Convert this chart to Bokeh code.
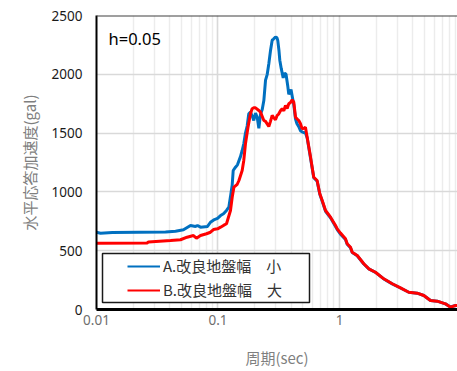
from bokeh.plotting import figure
from bokeh.models import (Range1d, Span, BoxAnnotation, Legend, LegendItem,
                          CustomJSTickFormatter, FixedTicker, Label, LogTicker)
from bokeh.embed import file_html
from bokeh.resources import INLINE

# ---- data (period in sec, horizontal response acceleration in gal) ----
period_a = [0.0100, 0.0108, 0.0135, 0.0370, 0.0447, 0.0520, 0.0594, 0.0653, 0.0678, 0.0718,
            0.0820, 0.0867, 0.0935, 0.0991, 0.1050, 0.1110, 0.1175, 0.1228, 0.1267, 0.1309,
            0.1334, 0.1393, 0.1446, 0.1531, 0.1581, 0.1630, 0.1683, 0.1738, 0.1792, 0.1850,
            0.1921, 0.1970, 0.2036, 0.2103, 0.2169, 0.2238, 0.2312, 0.2384, 0.2462, 0.2542,
            0.2620, 0.2704, 0.2792, 0.2863, 0.2973, 0.3060, 0.3106, 0.3177, 0.3226, 0.3314,
            0.3440, 0.3526, 0.3630, 0.3752, 0.3825, 0.3900, 0.3990, 0.4103, 0.4206, 0.4345,
            0.4467, 0.4622, 0.4775, 0.4955, 0.5078, 0.5245, 0.5418, 0.5768, 0.6141, 0.6545,
            0.6887, 0.7209, 0.7675, 0.8437, 0.9275, 0.9580, 1.019, 1.120, 1.157, 1.232,
            1.273, 1.400, 1.585, 1.743, 1.977, 2.315, 2.716, 3.177, 3.718, 4.362,
            4.943, 5.610, 6.370, 7.447, 8.199, 9.020, 10.0]
accel_a = [657, 649, 655, 660, 666, 678, 714, 706, 714, 700,
           706, 742, 765, 775, 799, 814, 842, 870, 960, 1060,
           1182, 1210, 1230, 1300, 1352, 1409, 1500, 1560, 1664, 1678,
           1640, 1607, 1670, 1635, 1540, 1660, 1700, 1777, 1950, 2000,
           2090, 2200, 2290, 2300, 2318, 2310, 2287, 2200, 2120, 2050,
           1970, 2010, 2000, 1900, 1830, 1848, 1870, 1800, 1740, 1620,
           1580, 1555, 1520, 1508, 1505, 1500, 1460, 1290, 1120, 1090,
           980, 920, 835, 780, 705, 680, 640, 595, 555, 525,
           485, 457, 387, 345, 316, 260, 218, 183, 147, 139,
           119, 77, 71, 48, 22, 34, 34]

period_b = [0.0100, 0.0261, 0.0268, 0.0407, 0.0491, 0.0557, 0.0628, 0.0665, 0.0718, 0.0804,
            0.0867, 0.0918, 0.0991, 0.1050, 0.1110, 0.1175, 0.1267, 0.1309, 0.1352, 0.1440,
            0.1487, 0.1581, 0.1630, 0.1683, 0.1766, 0.1850, 0.1909, 0.1970, 0.2036, 0.2169,
            0.2238, 0.2384, 0.2462, 0.2620, 0.2704, 0.2792, 0.2877, 0.2973, 0.3068, 0.3166,
            0.3267, 0.3373, 0.3481, 0.3594, 0.3710, 0.3825, 0.3951, 0.4079, 0.4206, 0.4345,
            0.4486, 0.4622, 0.4775, 0.4929, 0.5078, 0.5245, 0.5418, 0.5768, 0.6141, 0.6545,
            0.6887, 0.7209, 0.7675, 0.8437, 0.9275, 0.9580, 1.019, 1.120, 1.157, 1.232,
            1.273, 1.400, 1.585, 1.743, 1.977, 2.315, 2.716, 3.177, 3.718, 4.362,
            4.943, 5.610, 6.370, 7.447, 8.199, 9.020, 10.0]
accel_b = [564, 566, 575, 587, 593, 615, 629, 606, 629, 644,
           657, 680, 686, 700, 715, 729, 842, 955, 1040, 1065,
           1097, 1182, 1267, 1409, 1550, 1664, 1707, 1715, 1715, 1692,
           1678, 1607, 1600, 1556, 1600, 1650, 1630, 1615, 1650, 1664,
           1690, 1707, 1690, 1735, 1710, 1749, 1760, 1783, 1763, 1635,
           1620, 1607, 1580, 1536, 1540, 1550, 1465, 1300, 1125, 1097,
           984, 927, 842, 785, 714, 686, 650, 601, 559, 530,
           487, 459, 389, 346, 317, 261, 219, 184, 147, 139,
           119, 77, 71, 48, 20, 34, 34]

series_names = ["A.改良地盤幅　小", "B.改良地盤幅　大"]
series_colors = ["#0070C0", "#FF0000"]
y_ticks = [0, 500, 1000, 1500, 2000, 2500]
annotation_text = "h=0.05"
x_title = "周期(sec)"
y_title = "水平応答加速度(gal)"

CJK = "Noto Sans CJK JP"
NUM = "Noto Sans"

p = figure(width=457, height=371, x_axis_type="log",
           x_range=Range1d(0.01, 9.36), y_range=Range1d(0, 2500),
           output_backend="svg", toolbar_location=None,
           min_border_left=96, min_border_right=0, min_border_top=15, min_border_bottom=62)
p.outline_line_color = None
p.background_fill_color = "white"

# grids
p.xgrid.grid_line_color = "#d9d9d9"
p.xgrid.grid_line_width = 1.5
p.xgrid.minor_grid_line_color = "#ececec"
p.xgrid.minor_grid_line_width = 1.5
p.ygrid.grid_line_color = "#d9d9d9"
p.ygrid.grid_line_width = 1.5

# axes
p.xaxis.ticker = LogTicker(num_minor_ticks=10)
p.xaxis.formatter = CustomJSTickFormatter(code="return String(parseFloat(tick.toPrecision(6)));")
p.yaxis.ticker = FixedTicker(ticks=y_ticks)
for ax in (p.xaxis, p.yaxis):
    ax.major_tick_line_color = None
    ax.minor_tick_line_color = None
    ax.major_tick_out = 0
    ax.major_tick_in = 0
    ax.major_label_text_font = NUM
    ax.major_label_text_font_size = "13.5px"
    ax.axis_label_text_font = CJK
    ax.axis_label_text_font_size = "15px"
    ax.axis_label_text_font_style = "normal"
    ax.axis_label_text_color = "#7f7f7f"
    ax.axis_line_color = "black"

p.xaxis.axis_line_width = 3
p.xaxis.major_label_text_color = "#6e6e6e"
p.xaxis.major_label_standoff = 1
p.xaxis.axis_label = x_title
p.xaxis.axis_label_standoff = 19

p.yaxis.axis_line_width = 2
p.yaxis.major_label_text_color = "#1a1a1a"
p.yaxis.major_label_standoff = 14
p.yaxis.axis_label = y_title
p.yaxis.axis_label_standoff = 9

# top border
p.add_layout(Span(location=2500, dimension="width", line_color="#404040", line_width=2))

# series
ra = p.line(period_a, accel_a, line_color=series_colors[0], line_width=3)
rb = p.line(period_b, accel_b, line_color=series_colors[1], line_width=3)

# thinner single-point proxies (draw nothing) used only for the legend swatches
la = p.line(period_a[:1], accel_a[:1], line_color=series_colors[0], line_width=2)
lb = p.line(period_b[:1], accel_b[:1], line_color=series_colors[1], line_width=2)

# legend frame
box = BoxAnnotation(left=6, right=213, bottom=7, top=56,
                    left_units="screen", right_units="screen",
                    bottom_units="screen", top_units="screen",
                    fill_color="white", fill_alpha=1.0,
                    line_color="#1a1a1a", line_width=1.5, line_alpha=1.0)
p.add_layout(box)

legend = Legend(items=[LegendItem(label=series_names[0], renderers=[la]),
                       LegendItem(label=series_names[1], renderers=[lb])],
                location=(31, 9), margin=0, padding=0, spacing=3,
                glyph_width=33, glyph_height=20, label_height=20, label_standoff=3,
                border_line_color=None, background_fill_alpha=0,
                label_text_font=CJK, label_text_font_size="15px",
                label_text_color="#333333")
p.add_layout(legend)

p.add_layout(Label(x=12, y=271, x_units="screen", y_units="screen",
                   text=annotation_text, text_font=NUM, text_font_size="16.5px",
                   text_color="black", text_baseline="middle"))

open("out.html", "w").write(file_html(p, INLINE))
